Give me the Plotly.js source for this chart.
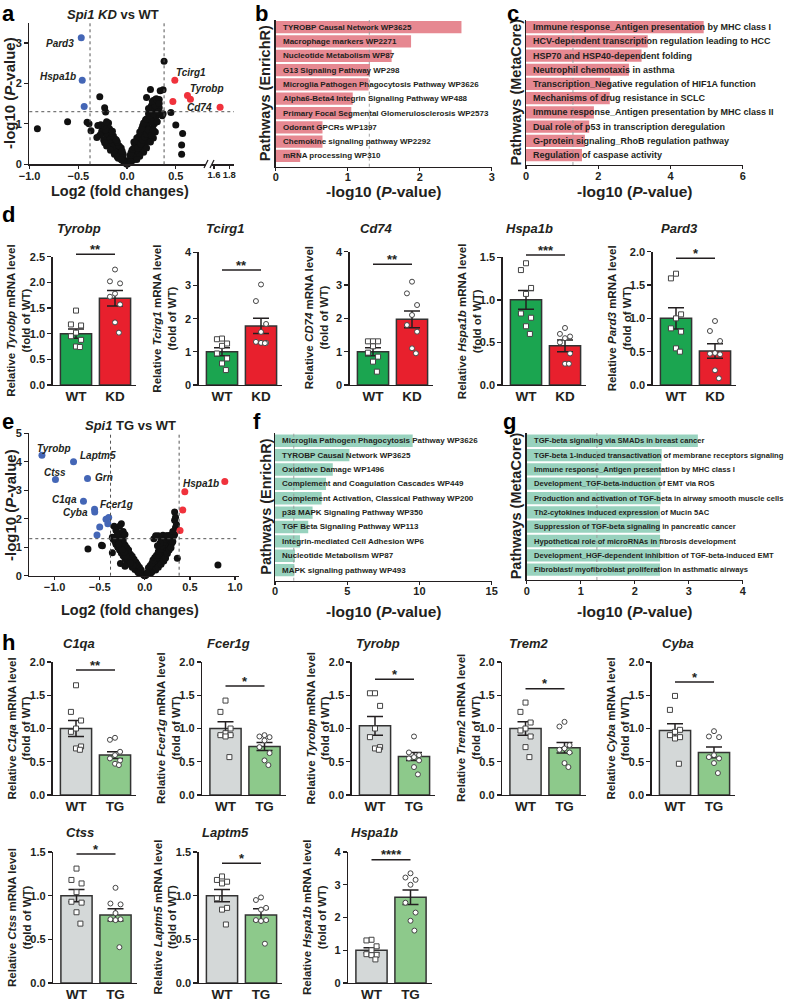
<!DOCTYPE html>
<html><head><meta charset="utf-8">
<script src="https://cdn.plot.ly/plotly-3.0.1.min.js"></script>
<style>html,body{margin:0;padding:0;background:#fff}#chart{width:785px;height:1000px}</style>
</head><body><div id="chart"></div>
<script>
// ================= DATA =================
// Panel a: Spi1 KD vs WT volcano  [log2 fold change, -log10 P]
const aBlack = [
 [0,0],[0.01,0.02],[-0.01,0.02],
 [-0.02,0.05],[-0.03,0.1],[-0.04,0.15],[-0.05,0.2],[-0.06,0.25],[-0.07,0.3],[-0.08,0.35],[-0.09,0.4],[-0.1,0.45],[-0.12,0.5],[-0.13,0.55],[-0.14,0.6],[-0.15,0.65],[-0.16,0.7],[-0.17,0.75],[-0.18,0.8],[-0.19,0.85],[-0.2,0.9],
 [-0.05,0.1],[-0.08,0.2],[-0.1,0.3],[-0.12,0.38],[-0.14,0.45],[-0.16,0.52],[-0.18,0.6],[-0.2,0.68],[-0.22,0.75],[-0.24,0.6],[-0.21,0.45],[-0.17,0.35],[-0.13,0.25],[-0.09,0.15],[-0.25,0.9],[-0.23,0.97],[-0.19,1.02],[-0.26,0.82],[-0.28,0.72],[-0.23,0.53],
 [-0.06,0.4],[-0.08,0.45],[-0.1,0.55],[-0.12,0.62],[-0.14,0.7],[-0.16,0.78],[-0.18,0.88],[-0.2,0.95],[-0.07,0.22],[-0.1,0.18],[-0.04,0.25],[-0.05,0.32],[-0.11,0.6],[-0.15,0.82],[-0.22,0.85],[-0.24,0.95],[-0.27,0.98],[-0.21,1.05],[-0.03,0.05],[-0.06,0.12],
 [-0.3,0.96],[-0.31,0.66],[-0.28,1.67],[-0.23,1.4],[-0.22,1.29],[-0.37,0.83],[-0.41,1.04],[-0.39,1.0],[-0.61,1.05],[-0.92,0.88],
 [0.02,0.05],[0.03,0.1],[0.04,0.15],[0.05,0.2],[0.06,0.25],[0.07,0.3],[0.08,0.35],[0.09,0.4],[0.1,0.45],[0.11,0.5],[0.12,0.55],[0.13,0.6],[0.14,0.65],[0.15,0.7],[0.16,0.75],[0.17,0.8],[0.18,0.85],[0.19,0.9],[0.2,0.95],[0.21,1.0],[0.22,1.05],[0.23,1.1],[0.24,1.15],[0.25,1.2],[0.26,1.3],[0.27,1.4],[0.28,1.5],[0.27,1.58],[0.29,1.6],
 [0.06,0.1],[0.09,0.2],[0.12,0.3],[0.15,0.4],[0.18,0.5],[0.2,0.6],[0.22,0.7],[0.24,0.8],[0.26,0.9],[0.28,1.0],[0.29,1.1],[0.3,1.2],[0.3,1.35],[0.25,1.45],[0.22,1.25],[0.19,1.1],[0.16,0.95],[0.13,0.8],[0.1,0.65],[0.08,0.5],[0.05,0.35],[0.03,0.22],[0.17,0.3],[0.2,0.4],[0.24,0.55],[0.27,0.65],[0.29,0.8],
 [0.04,0.28],[0.06,0.38],[0.08,0.42],[0.07,0.55],[0.1,0.58],[0.12,0.68],[0.14,0.75],[0.11,0.4],[0.14,0.5],[0.16,0.6],[0.18,0.68],[0.2,0.75],[0.22,0.85],[0.25,0.72],[0.27,0.85],[0.15,0.88],[0.17,1.02],[0.2,1.12],[0.23,1.2],[0.26,1.05],[0.31,1.05],[0.32,1.25],[0.33,1.4],[0.3,1.5],[0.27,1.25],[0.24,1.33],[0.22,1.38],[0.13,0.2],[0.1,0.12],[0.04,0.06],[0.29,1.45],[0.26,1.55],[0.3,1.62],[0.33,1.6],
 [0.24,1.85],[0.34,1.82],[0.38,2.55],[0.37,1.84],[0.36,1.2],[0.37,1.25],[0.45,1.28],[0.5,0.97],[0.57,0.76],[0.56,0.48],[0.56,0.25],[0.32,1.3],[0.33,1.5],[0.2,1.65]
];
const aBlue = [[-0.47,3.13],[-0.46,2.08],[-0.44,1.43]];
const aRed = [[0.49,2.08],[0.47,1.55],[0.62,1.70],[0.65,1.61]];
const aRedBreak = [[1.68,1.41]];
const aGeneNames = ['Pard3','Hspa1b','Tcirg1','Tyrobp','Cd74'];

// Panel e: Spi1 TG vs WT volcano
const eBlack = [
 [0,0],[0.01,0.02],[-0.01,0.02],
 [-0.02,0.05],[-0.04,0.12],[-0.06,0.2],[-0.08,0.28],[-0.1,0.36],[-0.12,0.44],[-0.14,0.52],[-0.16,0.6],[-0.18,0.7],[-0.2,0.8],[-0.22,0.9],[-0.24,1.0],[-0.26,1.1],[-0.28,1.2],[-0.3,1.3],[-0.31,1.4],
 [-0.05,0.08],[-0.08,0.15],[-0.11,0.22],[-0.14,0.3],[-0.17,0.4],[-0.2,0.5],[-0.22,0.6],[-0.24,0.7],[-0.26,0.8],[-0.28,0.9],[-0.3,1.0],[-0.32,1.1],[-0.33,1.2],[-0.15,0.62],[-0.18,0.82],[-0.21,1.0],[-0.24,1.15],[-0.27,1.3],[-0.12,0.5],[-0.09,0.42],
 [-0.06,0.3],[-0.08,0.38],[-0.1,0.48],[-0.12,0.58],[-0.14,0.68],[-0.16,0.75],[-0.18,0.9],[-0.2,0.98],[-0.22,1.08],[-0.24,1.25],[-0.26,1.38],[-0.28,1.45],[-0.3,1.2],[-0.32,1.3],[-0.19,0.6],[-0.21,0.7],[-0.23,0.82],[-0.25,0.92],[-0.04,0.2],[-0.07,0.1],[-0.13,0.36],[-0.16,0.45],[-0.29,1.1],[-0.3,1.38],
 [-0.26,1.82],[-0.28,1.74],[-0.34,1.74],[-0.32,1.6],[-0.3,1.5],[-0.24,1.55],[-0.22,1.45],[-0.36,1.35],[-0.35,1.28],
 [-0.36,0.81],[-0.27,0.43],[-0.22,0.33],[-0.63,0.94],[-0.48,1.07],[-0.47,1.05],
 [0.02,0.05],[0.04,0.12],[0.06,0.2],[0.08,0.28],[0.1,0.36],[0.12,0.44],[0.14,0.52],[0.16,0.6],[0.18,0.7],[0.2,0.8],[0.22,0.9],[0.24,1.0],[0.26,1.1],[0.28,1.2],[0.3,1.3],[0.32,1.4],
 [0.05,0.08],[0.08,0.15],[0.1,0.25],[0.12,0.32],[0.14,0.4],[0.16,0.48],[0.18,0.56],[0.2,0.65],[0.22,0.75],[0.24,0.85],[0.26,0.95],[0.28,1.05],[0.3,1.15],[0.1,0.5],[0.13,0.62],[0.16,0.78],[0.19,0.95],[0.22,1.1],[0.25,1.25],[0.18,1.3],[0.15,1.4],[0.2,1.42],[0.24,1.4],[0.28,1.42],[0.33,1.45],
 [0.04,0.28],[0.06,0.36],[0.08,0.45],[0.09,0.55],[0.11,0.64],[0.13,0.72],[0.15,0.85],[0.17,0.92],[0.19,1.05],[0.21,1.18],[0.23,1.28],[0.26,1.32],[0.29,1.3],[0.3,1.38],[0.25,1.4],[0.12,0.2],[0.15,0.3],[0.18,0.4],[0.21,0.52],[0.23,0.62],[0.25,0.78],[0.27,0.9],[0.29,0.98],[0.31,1.2],[0.17,1.15],[0.14,1.05],[0.1,1.3],[0.12,1.4],[0.07,0.1],[0.03,0.1],
 [0.33,2.24],[0.34,1.69],[0.33,1.95],[0.35,1.8],[0.34,2.05],[0.31,1.55],
 [0.36,0.61],[0.81,0.38]
];
const eBlue = [[-1.14,4.23],[-0.79,4.0],[-0.99,3.38],[-0.635,3.41],[-0.68,2.61],[-0.557,2.33],[-0.555,2.24],[-0.43,1.98],[-0.40,2.04],[-0.41,1.82],[-0.50,1.71],[-0.53,1.43]];
const eRed = [[0.443,2.95],[0.42,2.31],[0.39,1.59],[0.886,3.31]];
const eGeneNames = ['Tyrobp','Laptm5','Ctss','Grn','C1qa','Fcer1g','Cyba','Hspa1b'];

// Panel b / c / f / g : pathways and -log10(P)
const bLabels = ['TYROBP Causal Network WP3625','Macrophage markers WP2271','Nucleotide Metabolism WP87','G13 Signaling Pathway WP298','Microglia Pathogen Phagocytosis Pathway WP3626','Alpha6-Beta4 Integrin Signaling Pathway WP488','Primary Focal Segmental Glomerulosclerosis WP2573','Odorant GPCRs WP1397','Chemokine signaling pathway WP2292','mRNA processing WP310'];
const bValues = [2.58,1.88,1.61,1.31,1.29,1.07,1.05,0.65,0.65,0.34];
const cLabels = ['Immune response_Antigen presentation by MHC class I','HCV-dependent transcription regulation leading to HCC','HSP70 and HSP40-dependent folding','Neutrophil chemotaxis in asthma','Transcription_Negative regulation of HIF1A function','Mechanisms of drug resistance in SCLC','Immune response_Antigen presentation by MHC class II','Dual role of p53 in transcription deregulation','G-protein signaling_RhoB regulation pathway','Regulation of caspase activity'];
const cValues = [4.92,3.37,3.2,2.85,2.33,2.32,1.88,1.75,1.63,1.55];
const fLabels = ['Microglia Pathogen Phagocytosis Pathway WP3626','TYROBP Causal Network WP3625','Oxidative Damage WP1496','Complement and Coagulation Cascades WP449','Complement Activation, Classical Pathway WP200','p38 MAPK Signaling Pathway WP350','TGF Beta Signaling Pathway WP113','Integrin-mediated Cell Adhesion WP6','Nucleotide Metabolism WP87','MAPK signaling pathway WP493'];
const fValues = [9.53,5.15,4.0,3.53,3.23,2.6,2.3,1.73,1.38,1.34];
const gLabels = ['TGF-beta signaling via SMADs in breast cancer','TGF-beta 1-induced transactivation of membrane receptors signaling','Immune response_Antigen presentation by MHC class I','Development_TGF-beta-induction of EMT via ROS','Production and activation of TGF-beta in airway smooth muscle cells','Th2-cytokines induced expression of Mucin 5AC','Suppression of TGF-beta signaling in pancreatic cancer','Hypothetical role of microRNAs in fibrosis development','Development_HGF-dependent inhibition of TGF-beta-induced EMT','Fibroblast/ myofibroblast proliferation in asthmatic airways'];
const gValues = [3.17,2.5,2.49,2.48,2.48,2.47,2.47,2.47,2.47,2.47];

// Panel d: qPCR, Spi1 KD vs WT
const dGenes = ['Tyrobp','Tcirg1','Cd74','Hspa1b','Pard3'];
const dYLabelGenes = ['Tyrobp','Tcirg1','CD74','Hspa1b','Pard3'];
const dGroups = ['WT','KD'];
const dMeanWT = [1.0,1.0,1.0,1.0,1.0];
const dSemWT = [0.09,0.12,0.12,0.11,0.16];
const dMeanKD = [1.69,1.78,1.97,0.46,0.51];
const dSemKD = [0.15,0.23,0.25,0.07,0.11];
const dPtsWT = [[1.45,1.18,1.16,1.02,0.95,0.88,0.75,0.74],[1.4,1.38,1.25,1.18,0.95,0.8,0.65,0.45],[1.31,1.31,1.31,1.16,0.97,0.85,0.7,0.4],[1.43,1.35,1.14,1.07,0.84,0.79,0.69,0.6],[1.67,1.6,1.06,1.0,0.85,0.8,0.55,0.5]];
const dPtsKD = [[2.25,2.02,1.98,1.78,1.72,1.57,1.22,1.02],[3.03,2.53,1.84,1.6,1.3,1.27,1.27,1.26],[3.1,2.75,2.4,2.1,1.8,1.6,1.1,0.95],[0.67,0.6,0.57,0.55,0.5,0.37,0.25,0.25],[0.96,0.81,0.66,0.48,0.47,0.46,0.22,0.1]];
const dStars = ['**','**','**','***','*'];

// Panel h: qPCR, Spi1 TG vs WT
const hGenes = ['C1qa','Fcer1g','Tyrobp','Trem2','Cyba','Ctss','Laptm5','Hspa1b'];
const hGroups = ['WT','TG'];
const hMeanWT = [1.0,1.0,1.04,1.0,0.97,1.0,1.0,1.0];
const hSemWT = [0.12,0.1,0.14,0.1,0.1,0.07,0.07,0.08];
const hMeanTG = [0.6,0.73,0.58,0.71,0.64,0.78,0.78,2.62];
const hSemTG = [0.05,0.06,0.06,0.08,0.08,0.07,0.07,0.22];
const hPtsWT = [[1.65,1.25,1.12,1.0,0.95,0.73,0.7,0.68],[1.42,1.25,1.0,0.93,0.9,0.9,0.88,0.57],[1.53,1.53,1.34,1.0,0.87,0.72,0.7,0.68],[1.39,1.25,1.09,1.0,0.97,0.88,0.72,0.57],[1.49,1.28,0.98,0.95,0.9,0.87,0.85,0.47],[1.31,1.18,1.14,1.04,0.93,0.92,0.81,0.68],[1.22,1.18,1.16,1.14,0.97,0.86,0.84,0.67],[1.32,1.3,1.12,1.0,0.88,0.86,0.85,0.72]];
const hPtsTG = [[0.86,0.83,0.65,0.6,0.55,0.52,0.47,0.45],[0.9,0.88,0.87,0.82,0.72,0.63,0.52,0.45],[0.88,0.64,0.6,0.57,0.55,0.52,0.42,0.31],[1.1,1.03,0.75,0.7,0.68,0.64,0.48,0.42],[0.96,0.88,0.87,0.6,0.57,0.55,0.48,0.33],[1.09,0.91,0.9,0.8,0.73,0.73,0.72,0.41],[0.98,0.95,0.86,0.84,0.72,0.72,0.71,0.45],[3.35,3.22,3.15,3.0,2.45,2.15,1.9,1.6]];
const hStars = ['**','*','*','*','*','*','*','****'];

// ================= STYLE / LAYOUT =================
const W = 785, H = 1000;
const FONT = 'Liberation Sans, Arial, Helvetica, sans-serif';
const INK = '#231f20';
const fx = p => p / W, fy = p => 1 - p / H;
const JIT = [0, -0.13, 0.13, 0, -0.13, 0.13, 0, 0.1];

const layout = {width:W, height:H, margin:{l:0,r:0,t:0,b:0}, paper_bgcolor:'#fff', plot_bgcolor:'rgba(0,0,0,0)',
  showlegend:false, font:{family:FONT, color:INK}, annotations:[], shapes:[]};
const traces = [];

function axBase(o) {
  return Object.assign({showline:true, linecolor:INK, linewidth:1.3, ticks:'outside', ticklen:4, tickwidth:1.3,
    tickcolor:INK, showgrid:false, zeroline:false, fixedrange:true, tickangle:0,
    tickfont:{family:FONT, size:11, color:INK, weight:'bold'}}, o);
}
function key(ax, n) { return ax + 'axis' + (n > 1 ? n : ''); }
function ref(ax, n) { return ax + (n > 1 ? n : ''); }
function txt(px, py, text, o) {
  layout.annotations.push(Object.assign({xref:'paper', yref:'paper', x:fx(px), y:fy(py), text:text, showarrow:false,
    xanchor:'center', yanchor:'middle', font:{family:FONT, size:13, color:INK, weight:'bold'}}, o || {}));
}
function line(x0, y0, x1, y1, o) {
  layout.shapes.push(Object.assign({type:'line', xref:'paper', yref:'paper', x0:fx(x0), y0:fy(y0), x1:fx(x1), y1:fy(y1),
    line:{color:INK, width:1.4}}, o || {}));
}

// ---------- Volcano helper ----------
function volcano(n, xdom, ydom, xr, yr, black, blue, red) {
  layout[key('x', n)] = axBase({domain:[fx(xdom[0]), fx(xdom[1])], range:xr, dtick:0.5, tick0:0, tickformat:'.1f', ticklen:3,
    ticklabelstandoff:-2, anchor:ref('y', n)});
  layout[key('y', n)] = axBase({domain:[fy(ydom[1]), fy(ydom[0])], range:yr, dtick:1, anchor:ref('x', n)});
  const mk = (pts, col) => ({type:'scatter', mode:'markers', x:pts.map(p=>p[0]), y:pts.map(p=>p[1]),
    xaxis:ref('x', n), yaxis:ref('y', n), cliponaxis:false, hoverinfo:'skip',
    marker:{size:7, color:col, line:{width:0}}});
  traces.push(mk(black, '#111111'), mk(blue, '#4466b6'), mk(red, '#f0323c'));
  [-0.38, 0.38].forEach(v => layout.shapes.push({type:'line', xref:ref('x', n), yref:ref('y', n) + ' domain', x0:v, x1:v, y0:0, y1:1,
    line:{color:'#555', width:1, dash:'dot'}}));
}

// Panel a
volcano(1, [29.3, 206], [22.7, 164.3], [-1.003, 0.81], [0, 3.5], aBlack, aBlue, aRed);
layout.xaxis2 = axBase({domain:[fx(212), fx(234)], range:[1.574, 1.862], tickvals:[1.6, 1.8], tickformat:'.1f', ticklen:3,
  ticklabelstandoff:-2, tickfont:{family:FONT, size:9.5, color:INK, weight:'bold'}, anchor:'y'});
traces.push({type:'scatter', mode:'markers', x:aRedBreak.map(p=>p[0]), y:aRedBreak.map(p=>p[1]), xaxis:'x2', yaxis:'y',
  cliponaxis:false, hoverinfo:'skip', marker:{size:7, color:'#f0323c'}});
layout.shapes.push({type:'line', xref:'paper', yref:'y', x0:fx(29.3), x1:fx(234), y0:1.3, y1:1.3, line:{color:'#555', width:1, dash:'dot'}});
line(204, 168, 208, 160, {line:{color:INK, width:1.2}});
line(210, 168, 214, 160, {line:{color:INK, width:1.2}});
const aLabelPts = [aBlue[0], aBlue[1], aRed[0], aRed[2], aRedBreak[0]];
const aLabelAx = ['x', 'x', 'x', 'x', 'x2'];
const aLabelPos = [['right', -5, -6], ['right', -4, 4], ['left', -1, 8], ['left', 1, 7], ['right', -6, 0]];
aGeneNames.forEach((g, i) => layout.annotations.push({xref:aLabelAx[i], yref:'y', x:aLabelPts[i][0], y:aLabelPts[i][1],
  text:'<i>' + g + '</i>', showarrow:false, xanchor:aLabelPos[i][0], yanchor:'middle', xshift:aLabelPos[i][1], yshift:aLabelPos[i][2],
  font:{family:FONT, size:10, color:INK, weight:'bold'}}));
txt(113, 14, '<i>Spi1 KD</i> vs WT', {font:{family:FONT, size:13, color:INK, weight:'bold'}});
txt(120, 191, 'Log2 (fold changes)', {font:{family:FONT, size:14.5, color:INK, weight:'bold'}});
txt(10, 93, '-log10 (<i>P</i>-value)', {textangle:-90, font:{family:FONT, size:15, color:INK, weight:'bold'}});

// Panel e
volcano(10, [29.3, 238.7], [433.3, 575.7], [-1.28, 1.04], [0, 5], eBlack, eBlue, eRed);
layout.shapes.push({type:'line', xref:'x10 domain', yref:'y10', x0:0, x1:1, y0:1.3, y1:1.3, line:{color:'#555', width:1, dash:'dot'}});
const eLabelPts = [eBlue[0], eBlue[1], eBlue[2], eBlue[3], eBlue[4], eBlue[5], eBlue[6], eRed[3]];
const eLabelPos = [['left', -7, 7], ['left', 4, 6], ['center', 0, 7], ['left', 5, 1], ['right', -4, 2], ['left', 3, 5], ['right', -5, -1], ['right', -4, -2]];
eGeneNames.forEach((g, i) => layout.annotations.push({xref:'x10', yref:'y10', x:eLabelPts[i][0], y:eLabelPts[i][1],
  text:'<i>' + g + '</i>', showarrow:false, xanchor:eLabelPos[i][0], yanchor:'middle', xshift:eLabelPos[i][1], yshift:eLabelPos[i][2],
  font:{family:FONT, size:10, color:INK, weight:'bold'}}));
txt(130, 425, '<i>Spi1</i> TG vs WT', {font:{family:FONT, size:13, color:INK, weight:'bold'}});
txt(130, 610, 'Log2 (fold changes)', {font:{family:FONT, size:14.5, color:INK, weight:'bold'}});
txt(10, 505, '-log10 (<i>P</i>-value)', {textangle:-90, font:{family:FONT, size:15, color:INK, weight:'bold'}});

// ---------- Pathway bar helper ----------
function pathways(n, xdom, ydom, xr, dt, yr, labels, values, color, ytitle, ytx, xtitleY, fsize) {
  layout[key('x', n)] = axBase({domain:[fx(xdom[0]), fx(xdom[1])], range:xr, dtick:dt, tick0:0, ticklen:3,
    ticklabelstandoff:-3, anchor:ref('y', n)});
  layout[key('y', n)] = axBase({domain:[fy(ydom[1]), fy(ydom[0])], range:yr, showticklabels:false, ticks:'', anchor:ref('x', n)});
  const idx = labels.map((_, i) => i);
  traces.push({type:'bar', orientation:'h', x:values, y:idx, width:0.86, xaxis:ref('x', n), yaxis:ref('y', n),
    marker:{color:color, line:{width:0}}, hoverinfo:'skip'});
  labels.forEach((l, i) => layout.annotations.push({xref:ref('x', n), yref:ref('y', n), x:0, y:i, text:l, showarrow:false,
    xanchor:'left', yanchor:'middle', xshift:5, font:{family:FONT, size:fsize, color:INK, weight:'bold'}}));
  layout.shapes.push({type:'line', xref:ref('x', n), yref:ref('y', n) + ' domain', x0:1.3, x1:1.3, y0:0, y1:1,
    line:{color:'#9a9a9a', width:0.9, dash:'dot'}});
  txt(ytx, (ydom[0] + ydom[1]) / 2, ytitle, {textangle:-90, font:{family:FONT, size:14.5, color:INK, weight:'bold'}});
  txt((xdom[0] + xdom[1]) / 2, xtitleY, '-log10 (<i>P</i>-value)', {font:{family:FONT, size:15.5, color:INK, weight:'bold'}});
}
const PINK = 'rgba(226,120,130,0.88)', TEAL = 'rgba(146,208,186,0.95)';
pathways(3, [275.7, 491.7], [20, 166.7], [0, 3], 1, [9.75, -0.5], bLabels, bValues, PINK, 'Pathways (EnrichR)', 265, 192, 8);
pathways(4, [526, 742.7], [20, 165], [0, 6], 2, [9.7, -0.5], cLabels, cValues, PINK, 'Pathways (MetaCore)', 515, 192, 9);
pathways(11, [275, 491.7], [432.7, 580.7], [0, 15], 5, [9.74, -0.56], fLabels, fValues, TEAL, 'Pathways (EnrichR)', 266, 611, 8);
pathways(12, [526.7, 742.7], [432.7, 580], [0, 4], 1, [9.72, -0.56], gLabels, gValues, TEAL, 'Pathways (MetaCore)', 516, 611, 7.6);

// ---------- qPCR bar helper ----------
function qpcr(n, wtc, top, bot, yr, dt, fmt, xr, gene, ylabGene, groups, mWT, sWT, mX, sX, pWT, pX, colWT, colX, star, sigY, titleY) {
  const pxPerUnit = 39;
  const x0 = wtc + xr[0] * pxPerUnit, x1 = wtc + xr[1] * pxPerUnit;
  layout[key('x', n)] = axBase({domain:[fx(x0), fx(x1)], range:xr, tickvals:[0, 1], ticktext:groups, ticks:'', ticklabelstandoff:-2,
    tickfont:{family:FONT, size:13.5, color:INK, weight:'bold'}, anchor:ref('y', n)});
  layout[key('y', n)] = axBase({domain:[fy(bot), fy(top)], range:yr, dtick:dt, tick0:0, tickformat:fmt, anchor:ref('x', n)});
  traces.push({type:'bar', x:[0, 1], y:[mWT, mX], width:0.8, xaxis:ref('x', n), yaxis:ref('y', n), hoverinfo:'skip',
    marker:{color:[colWT, colX], line:{color:'#333', width:1.5}},
    error_y:{type:'data', array:[sWT, sX], color:INK, thickness:1.5, width:8}});
  const pts = (vals, c, sym) => ({type:'scatter', mode:'markers', x:vals.map((v, k) => c + JIT[k]), y:vals,
    xaxis:ref('x', n), yaxis:ref('y', n), cliponaxis:false, hoverinfo:'skip',
    marker:{symbol:sym, size:5, color:'#ffffff', line:{color:'#444', width:1}}});
  traces.push(pts(pWT, 0, 'square'), pts(pX, 1, 'circle'));
  line(wtc, sigY, wtc + pxPerUnit, sigY, {line:{color:INK, width:1.4}});
  txt(wtc + pxPerUnit / 2, sigY - 5, star, {font:{family:FONT, size:13, color:INK, weight:'bold'}});
  txt(wtc + 3, titleY, '<i>' + gene + '</i>', {font:{family:FONT, size:13, color:INK, weight:'bold'}});
  txt(wtc - 57, (top + bot) / 2, 'Relative <i>' + ylabGene + '</i> mRNA level<br>(fold of WT)',
    {textangle:-90, font:{family:FONT, size:11.5, color:INK, weight:'bold'}});
}
const GREEN = '#1ba550', RED = '#e8202d', GREY = '#d4d8d8', LGREEN = '#8dc98b';
const dCenters = [76, 222, 373, 526, 676];
const dTops = [256.7, 252.3, 251.7, 257.3, 251.7];
const dRanges = [[0, 2.5], [0, 4], [0, 4], [0, 1.5], [0, 2]];
const dDt = [0.5, 1, 1, 0.5, 0.5];
const dFmt = ['.1f', 'd', 'd', '.1f', '.1f'];
const dSigY = [254.3, 270, 264.3, 255, 258.3];
dGenes.forEach((g, i) => qpcr(5 + i, dCenters[i], dTops[i], 385, dRanges[i], dDt[i], dFmt[i], [-0.6, 1.55], g, dYLabelGenes[i],
  dGroups, dMeanWT[i], dSemWT[i], dMeanKD[i], dSemKD[i], dPtsWT[i], dPtsKD[i], GREEN, RED, dStars[i], dSigY[i], 229));

const hCenters = [76, 225.5, 375, 525.5, 675, 76.5, 222, 371.5];
const hTops = [662, 662, 662, 662, 662, 852, 852, 852];
const hBots = [795, 795, 795, 795, 795, 983, 983, 983];
const hRanges = [[0, 2], [0, 2], [0, 2], [0, 2], [0, 2], [0, 1.5], [0, 1.5], [0, 4]];
const hDt = [0.5, 0.5, 0.5, 0.5, 0.5, 0.5, 0.5, 1];
const hFmt = ['.1f', '.1f', '.1f', '.1f', '.1f', '.1f', '.1f', 'd'];
const hSigY = [670, 686, 679.3, 688.7, 682, 854, 863.3, 859.7];
const hTitleY = [643, 643, 643, 643, 643, 832, 832, 832];
hGenes.forEach((g, i) => qpcr(13 + i, hCenters[i], hTops[i], hBots[i], hRanges[i], hDt[i], hFmt[i], [-0.6, 1.55], g, g,
  hGroups, hMeanWT[i], hSemWT[i], hMeanTG[i], hSemTG[i], hPtsWT[i], hPtsTG[i], GREY, LGREEN, hStars[i], hSigY[i], hTitleY[i]));

// panel letters
[['a', 8, 13], ['b', 261, 13], ['c', 513, 13], ['d', 8, 215], ['e', 8, 422], ['f', 257, 422], ['g', 509, 422], ['h', 8, 642]]
  .forEach(l => txt(l[1], l[2], l[0], {font:{family:FONT, size:22, color:'#000', weight:'bold'}}));

Plotly.newPlot('chart', traces, layout, {staticPlot:true, displayModeBar:false});
</script>
</body></html>
